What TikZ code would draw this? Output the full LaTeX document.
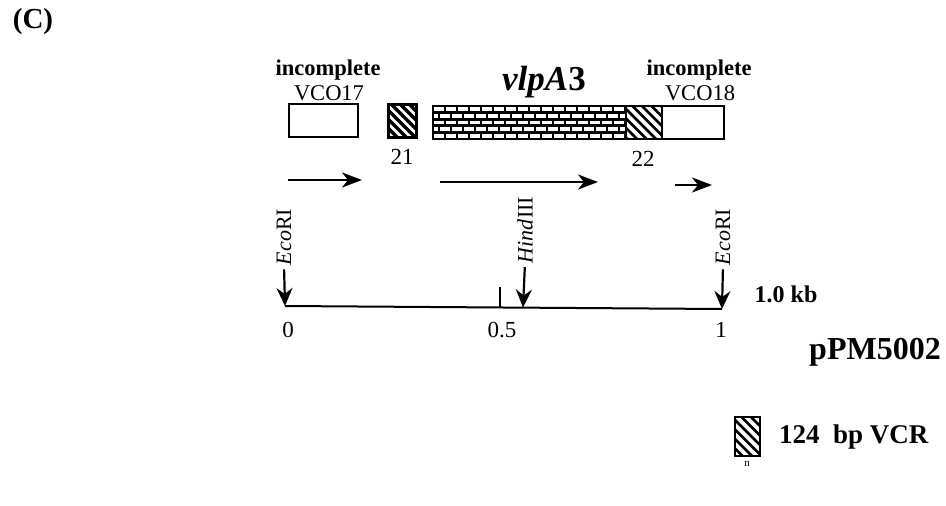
\documentclass[tikz,border=0pt]{standalone}
\usepackage{fontspec}
\setmainfont{Liberation Serif}
\usetikzlibrary{arrows.meta}
\tikzset{
  box/.style={draw,line width=2pt,inner sep=0pt,fill=white},
  hatchA/.style={path picture={
     \foreach \i in {-60,-51,...,60}{
       \draw[line width=3.4pt] ([xshift=\i pt]path picture bounding box.north west) -- ++(60,60);}}},
  hatchB/.style={path picture={
     \foreach \i in {-60,-50.5,...,60}{
       \draw[line width=2.6pt] ([xshift=\i pt]path picture bounding box.north west) -- ++(60,60);}}},
  bricks/.style={path picture={
     \foreach \r in {1,...,4}{
       \draw[line width=2.8pt] ([yshift=-\r*6.6 pt]path picture bounding box.north west) -- ++(200,0);}
     \foreach \r in {0,...,4}{
       \foreach \c in {0,...,16}{
         \draw[line width=2.4pt] (path picture bounding box.north west) ++({\c*12+mod(\r,2)*6},{\r*6.6}) -- ++(0,6.6);}}}},
  txt/.style={inner sep=0pt,font=\fontsize{23}{26}\selectfont},
  site/.style={inner sep=0pt,rotate=90,font=\fontsize{22}{24}\selectfont},
  orf/.style={line width=2.2pt,-{Stealth[length=20pt,width=15pt,inset=6pt]}},
  rsite/.style={line width=2.2pt,-{Stealth[length=18pt,width=16pt,inset=6pt]},shorten <=4pt},
}
\begin{document}
\begin{tikzpicture}[x=1pt,y=-1pt]
\useasboundingbox (0,0) rectangle (946,506);

% panel label
\node[inner sep=0pt,font=\fontsize{29}{32}\selectfont\bfseries] (panel) at (33,22) {(C)};

% boxes
\node[box,minimum width=69pt,minimum height=33pt] (vco17) at (323.5,120) {};
\node[box,hatchA,minimum width=28pt,minimum height=33pt,line width=3pt] (v21) at (402,120.5) {};
\node[box,bricks,minimum width=193pt,minimum height=33pt] (vlpa) at (529.5,122.5) {};
\node[box,hatchB,minimum width=36pt,minimum height=33pt] (v22) at (644,122.5) {};
\node[box,minimum width=62pt,minimum height=33pt] (vco18) at (693,122.5) {};

% labels above
\node[txt,font=\fontsize{22.5}{26}\selectfont\bfseries] (inc1) at (328,70) {incomplete};
\node[txt,font=\fontsize{22.5}{26}\selectfont] (lab17) at (329,93) {VCO17};
\node[txt,font=\fontsize{22.5}{26}\selectfont\bfseries] (inc2) at (699,70) {incomplete};
\node[txt,font=\fontsize{22.5}{26}\selectfont] (lab18) at (700,93) {VCO18};
\node[txt,font=\fontsize{35}{40}\selectfont\bfseries] (vlplab) at (544,82) {\textit{vlpA}3};
\node[txt] (l21) at (402,157) {21};
\node[txt] (l22) at (643,159) {22};

% ORF arrows
\coordinate (o1s) at (288,180); \coordinate (o1e) at (362,180);
\coordinate (o2s) at (440,182); \coordinate (o2e) at (598,182);
\coordinate (o3s) at (675,185); \coordinate (o3e) at (712,185);
\draw[orf] (o1s) -- (o1e);
\draw[orf] (o2s) -- (o2e);
\draw[orf] (o3s) -- (o3e);

% scale line
\coordinate (s0) at (285,306);
\coordinate (s1) at (722,309);
\coordinate (sh) at (523,307.5);
\coordinate (tickb) at (500,307.5);
\coordinate (tickt) at (500,287);
\draw[line width=2pt] (s0) -- (s1);
\draw[line width=2pt] (tickb) -- (tickt);

% restriction sites
\node[site] (eco1) at (284,237) {\textit{Eco}RI};
\node[site] (hind) at (525,230) {\textit{Hind}III};
\node[site] (eco2) at (723,237) {\textit{Eco}RI};
\draw[rsite] (eco1.west) -- (s0);
\draw[rsite] (hind.west) -- (sh);
\draw[rsite] (eco2.west) -- (s1);

% scale labels
\node[txt] (t0) at (288,330) {0};
\node[txt] (t05) at (502,330) {0.5};
\node[txt] (t1) at (721,330) {1};
\node[txt,font=\fontsize{24}{28}\selectfont\bfseries] (kb) at (786,294) {1.0 kb};
\node[txt,font=\fontsize{32}{36}\selectfont\bfseries] (plasmid) at (875,352) {pPM5002};

% legend
\node[box,hatchB,minimum width=25pt,minimum height=39pt] (leg) at (747.5,436.5) {};
\node[txt,font=\fontsize{11}{12}\selectfont] (legn) at (747,464) {n};
\node[txt,font=\fontsize{27}{30}\selectfont\bfseries,anchor=west] (legtxt) at (779,437) {124\ \ bp VCR};
\end{tikzpicture}
\end{document}
